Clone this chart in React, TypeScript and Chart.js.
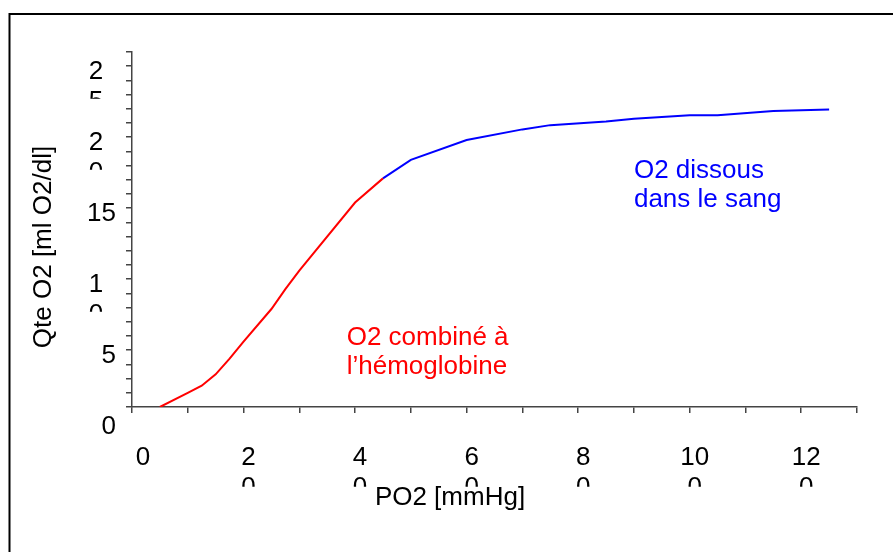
import React, { useEffect, useRef } from 'react';
import { Chart, registerables } from 'chart.js';

Chart.register(...registerables);

// Oxygen bound to hemoglobin (red segment)
const hemoglobinPO2 = [5, 10, 12.5, 15, 17.5, 20, 25, 27.5, 30, 40, 45];
const hemoglobinO2 = [0, 1.0, 1.5, 2.3, 3.4, 4.6, 6.9, 8.3, 9.6, 14.4, 16.1];
// Dissolved oxygen (blue segment)
const dissolvedPO2 = [45, 50, 60, 70, 75, 85, 90, 100, 105, 115, 125];
const dissolvedO2 = [16.1, 17.4, 18.8, 19.55, 19.85, 20.1, 20.3, 20.55, 20.55, 20.85, 20.95];

// Tick labels as they appear (wrapped into lines)
const xTickValues = [0, 20, 40, 60, 80, 100, 120];
const xTickLabels = [['0'], ['2', '0'], ['4', '0'], ['6', '0'], ['8', '0'], ['10', '0'], ['12', '0']];
const yTickValues = [0, 5, 10, 15, 20, 25];
const yTickLabels = [['0'], ['5'], ['1', '0'], ['15'], ['2', '0'], ['2', '5']];

const xTitle = 'PO2 [mmHg]';
const yTitle = 'Qte O2 [ml O2/dl]';
const hemoglobinNote = ['O2 combiné à', 'l’hémoglobine'];
const hemoglobinNotePos = [38.5, 4.4];
const dissolvedNote = ['O2 dissous', 'dans le sang'];
const dissolvedNotePos = [90.0, 16.1];

const FONT = '"Liberation Sans", Arial, sans-serif';
const AXIS_COLOR = '#444';

const decorPlugin = {
  id: 'decor',
  afterDraw(chart: any) {
    const ctx = chart.ctx as CanvasRenderingContext2D;
    const xs = chart.scales.x;
    const ys = chart.scales.y;
    ctx.save();

    // outer frame (left and top edges visible)
    ctx.strokeStyle = '#000';
    ctx.lineWidth = 2;
    ctx.beginPath();
    ctx.moveTo(9.5, 600);
    ctx.lineTo(9.5, 14);
    ctx.lineTo(950, 14);
    ctx.stroke();

    const tickSize = 26;
    const capMid = 0.358 * tickSize;
    const capH = 0.716 * tickSize;
    const lineGap = 30;
    ctx.font = `${tickSize}px ${FONT}`;
    ctx.fillStyle = '#000';
    ctx.textBaseline = 'alphabetic';

    // y tick labels
    yTickValues.forEach((v, i) => {
      const lines = yTickLabels[i];
      const py = ys.getPixelForValue(v);
      const base = py + 18 + capMid;
      if (lines.length === 1) {
        ctx.textAlign = 'right';
        ctx.fillText(lines[0], ys.right - 16, base);
      } else {
        const cx = ys.right - 36;
        ctx.textAlign = 'center';
        ctx.fillText(lines[0], cx, base);
        const b2 = base + lineGap;
        ctx.save();
        ctx.beginPath();
        ctx.rect(cx - 30, b2 - capH - 3, 60, 3 + 8);
        ctx.clip();
        ctx.fillText(lines[1], cx, b2);
        ctx.restore();
      }
    });

    // x tick labels
    xTickValues.forEach((v, i) => {
      const lines = xTickLabels[i];
      const px = xs.getPixelForValue(v);
      const base = xs.top + 49 + capMid;
      ctx.textAlign = 'center';
      if (lines.length === 1) {
        ctx.fillText(lines[0], px + 11, base);
      } else {
        const cx = px + 5;
        ctx.fillText(lines[0], cx, base);
        const b2 = base + lineGap;
        ctx.save();
        ctx.beginPath();
        ctx.rect(cx - 30, b2 - capH - 3, 60, 3 + 10);
        ctx.clip();
        ctx.fillText(lines[1], cx, b2);
        ctx.restore();
      }
    });

    // axis titles
    const titleSize = 26;
    ctx.font = `${titleSize}px ${FONT}`;
    ctx.textAlign = 'center';
    ctx.fillText(xTitle, 450, 505);
    ctx.save();
    ctx.translate(51, 247);
    ctx.rotate(-Math.PI / 2);
    ctx.fillText(yTitle, 0, 0);
    ctx.restore();

    // annotations
    const noteGap = 29;
    ctx.textAlign = 'left';
    ctx.fillStyle = '#ff0000';
    const hx = xs.getPixelForValue(hemoglobinNotePos[0]);
    const hy = ys.getPixelForValue(hemoglobinNotePos[1]);
    hemoglobinNote.forEach((t, i) => ctx.fillText(t, hx, hy + i * noteGap));
    ctx.fillStyle = '#0000ff';
    const dx = xs.getPixelForValue(dissolvedNotePos[0]);
    const dy = ys.getPixelForValue(dissolvedNotePos[1]);
    dissolvedNote.forEach((t, i) => ctx.fillText(t, dx, dy + i * noteGap));

    ctx.restore();
  },
};

export default function App() {
  const ref = useRef<HTMLCanvasElement>(null);
  useEffect(() => {
    const axisCommon = {
      type: 'linear' as const,
      grid: {
        drawOnChartArea: false,
        drawTicks: true,
        tickLength: 6,
        color: AXIS_COLOR,
        lineWidth: 1.5,
      },
      border: { color: AXIS_COLOR, width: 1.5 },
    };
    const chart = new Chart(ref.current as HTMLCanvasElement, {
      type: 'scatter',
      data: {
        datasets: [
          {
            data: hemoglobinPO2.map((x, i) => ({ x, y: hemoglobinO2[i] })),
            showLine: true,
            borderColor: '#ff0000',
            backgroundColor: '#ff0000',
            borderWidth: 2,
            pointRadius: 0,
            tension: 0,
          },
          {
            data: dissolvedPO2.map((x, i) => ({ x, y: dissolvedO2[i] })),
            showLine: true,
            borderColor: '#0000ff',
            backgroundColor: '#0000ff',
            borderWidth: 2,
            pointRadius: 0,
            tension: 0,
          },
        ],
      },
      options: {
        responsive: false,
        animation: false,
        layout: { padding: { left: 126, top: 52, right: 36, bottom: 139 } },
        plugins: { legend: { display: false }, tooltip: { enabled: false } },
        scales: {
          x: { ...axisCommon, min: 0, max: 130, ticks: { display: false, stepSize: 10 } },
          y: { ...axisCommon, min: 0, max: 25, ticks: { display: false, stepSize: 1 } },
        },
      },
      plugins: [decorPlugin],
    } as any);
    return () => chart.destroy();
  }, []);
  return (
    <div style={{ position: 'absolute', left: 0, top: 0, width: 893, height: 552, background: '#fff' }}>
      <canvas ref={ref} width={893} height={552} style={{ display: 'block' }} />
    </div>
  );
}
